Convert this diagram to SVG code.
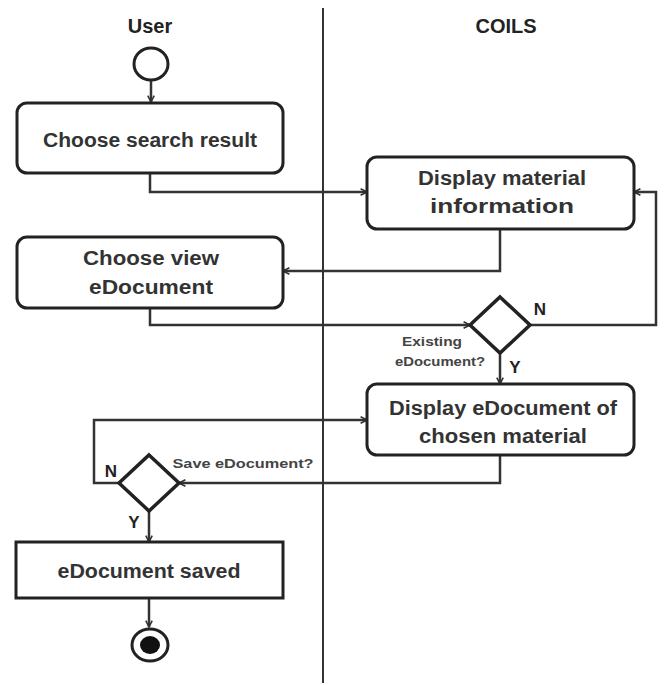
<svg xmlns="http://www.w3.org/2000/svg" width="664" height="685" viewBox="0 0 664 685">
  <defs>
    <marker id="arrow" viewBox="0 0 10 10" refX="9" refY="5" markerWidth="8" markerHeight="8" markerUnits="userSpaceOnUse" orient="auto">
      <path d="M1,1 L9,5 L1,9" fill="none" stroke="#333" stroke-width="2"/>
    </marker>
    <style>
      .title { font-family: "Liberation Sans", Arial, sans-serif; font-weight: bold; font-size: 20px; fill: #222; text-anchor: middle; }
      .label { font-family: "Liberation Sans", Arial, sans-serif; font-weight: bold; font-size: 20px; fill: #333; text-anchor: middle; }
      .guard { font-family: "Liberation Sans", Arial, sans-serif; font-weight: bold; font-size: 12px; fill: #444; text-anchor: middle; }
      .yn { font-family: "Liberation Sans", Arial, sans-serif; font-weight: bold; font-size: 17px; fill: #222; text-anchor: middle; }
      .box { fill: #fff; stroke: #222; stroke-width: 3; }
      .dec { fill: #fff; stroke: #222; stroke-width: 3.5; }
      .flow { fill: none; stroke: #333; stroke-width: 2.5; marker-end: url(#arrow); }
      .lane { stroke: #333; stroke-width: 2; }
    </style>
  </defs>

  <rect width="664" height="685" fill="#fff"/>

  <!-- swimlanes -->
  <g id="lanes">
    <line class="lane" x1="323" y1="8" x2="323" y2="683"/>
    <text class="title" x="150" y="33">User</text>
    <text class="title" x="506" y="33">COILS</text>
  </g>

  <!-- connectors -->
  <g id="connectors">
    <path class="flow" d="M151,80 L151,102"/>
    <path class="flow" d="M150,173 L150,192 L367,192"/>
    <path class="flow" d="M500,229 L500,271 L283,271"/>
    <path class="flow" d="M150,308 L150,325 L470,325"/>
    <path class="flow" d="M530,325 L656,325 L656,192 L634,192"/>
    <path class="flow" d="M500,353 L500,384"/>
    <path class="flow" d="M500,455 L500,483 L179,483"/>
    <path class="flow" d="M119,483 L94,483 L94,420 L367,420"/>
    <path class="flow" d="M149,511 L149,542"/>
    <path class="flow" d="M149,598 L149,627"/>
  </g>

  <g id="start">
    <ellipse cx="151" cy="64" rx="17" ry="16" fill="#fff" stroke="#222" stroke-width="3"/>
  </g>

  <g id="choose-search-result">
    <rect class="box" x="17" y="103" width="266" height="70" rx="10"/>
    <text class="label" x="150" y="147" textLength="214" lengthAdjust="spacingAndGlyphs">Choose search result</text>
  </g>

  <g id="display-material-information">
    <rect class="box" x="367" y="157" width="267" height="72" rx="10"/>
    <text class="label" x="502" y="185" textLength="168" lengthAdjust="spacingAndGlyphs">Display material</text>
    <text class="label" x="502" y="213" textLength="144" lengthAdjust="spacingAndGlyphs">information</text>
  </g>

  <g id="choose-view-edocument">
    <rect class="box" x="17" y="237" width="266" height="71" rx="10"/>
    <text class="label" x="151" y="265" textLength="136" lengthAdjust="spacingAndGlyphs">Choose  view</text>
    <text class="label" x="151" y="294" textLength="124" lengthAdjust="spacingAndGlyphs">eDocument</text>
  </g>

  <g id="existing-edocument">
    <polygon class="dec" points="500,297 530,325 500,353 470,325"/>
    <text class="guard" x="432" y="346" textLength="60" lengthAdjust="spacingAndGlyphs">Existing</text>
    <text class="guard" x="440" y="366" textLength="90" lengthAdjust="spacingAndGlyphs">eDocument?</text>
    <text class="yn" x="540" y="315">N</text>
    <text class="yn" x="515" y="373">Y</text>
  </g>

  <g id="display-edocument">
    <rect class="box" x="367" y="384" width="267" height="71" rx="10"/>
    <text class="label" x="503" y="415" textLength="228" lengthAdjust="spacingAndGlyphs">Display eDocument of</text>
    <text class="label" x="503" y="443" textLength="168" lengthAdjust="spacingAndGlyphs">chosen material</text>
  </g>

  <g id="save-edocument">
    <polygon class="dec" points="149,455 179,483 149,511 119,483"/>
    <text class="guard" x="243" y="468" textLength="141" lengthAdjust="spacingAndGlyphs">Save eDocument?</text>
    <text class="yn" x="111" y="477">N</text>
    <text class="yn" x="134" y="528">Y</text>
  </g>

  <g id="edocument-saved">
    <rect class="box" x="16" y="542" width="267" height="56"/>
    <text class="label" x="149" y="578" textLength="183" lengthAdjust="spacingAndGlyphs">eDocument saved</text>
  </g>

  <g id="end">
    <ellipse cx="150" cy="645" rx="18" ry="16" fill="#fff" stroke="#222" stroke-width="3"/>
    <ellipse cx="150" cy="645" rx="10" ry="9" fill="#111"/>
  </g>
</svg>
